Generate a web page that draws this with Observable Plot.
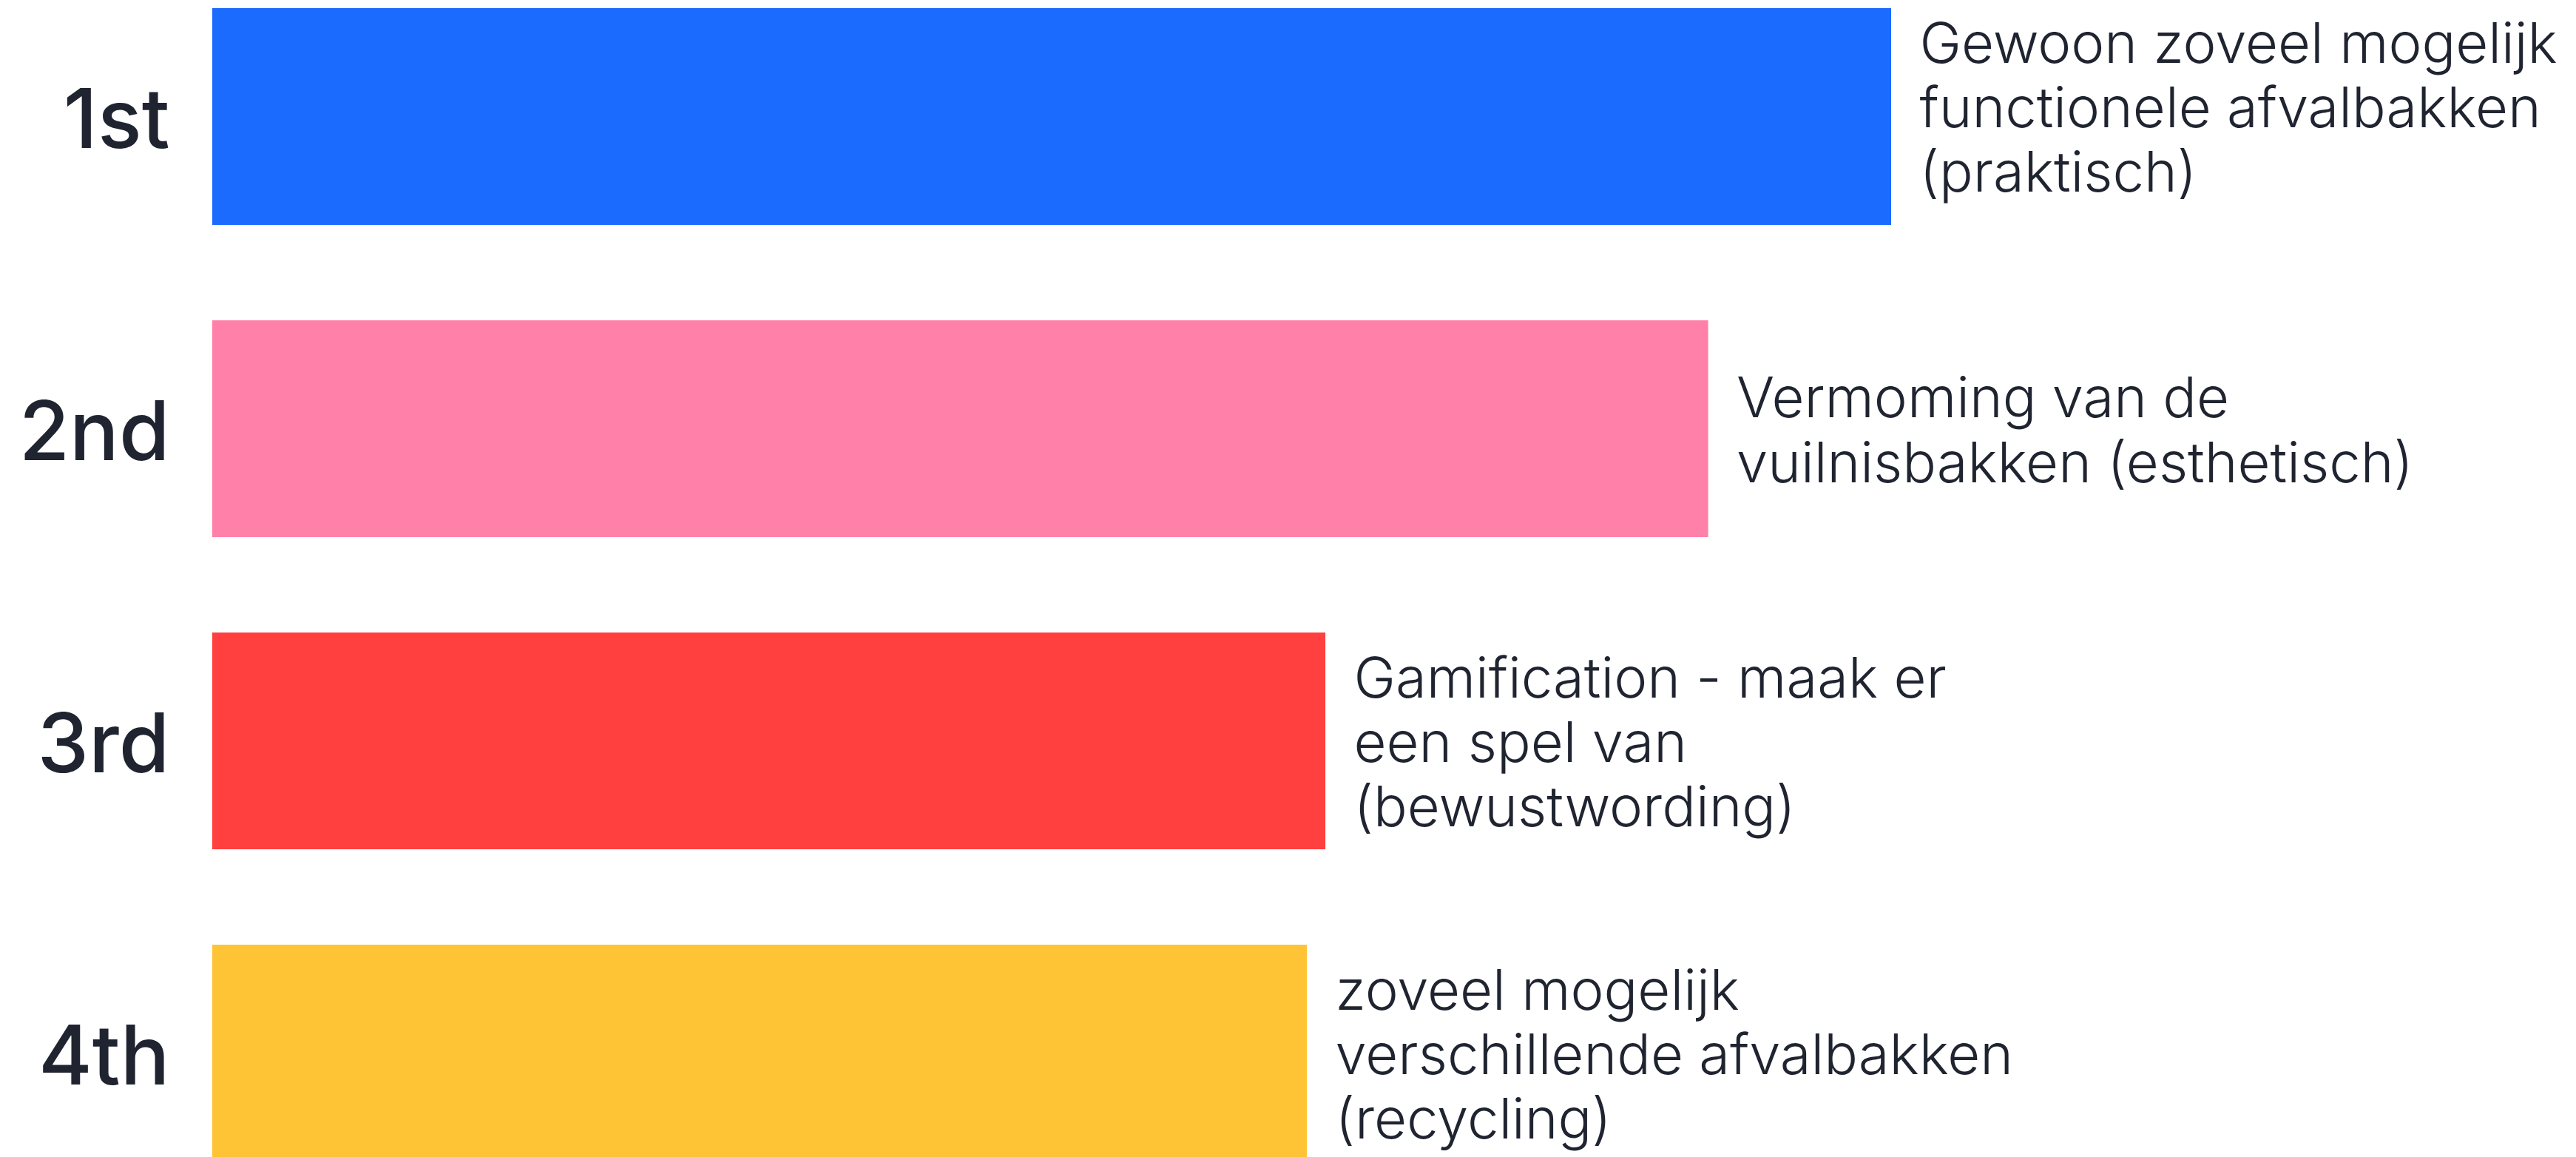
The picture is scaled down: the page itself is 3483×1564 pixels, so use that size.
<!DOCTYPE html>
<html>
<head>
<meta charset="utf-8">
<script src="https://cdn.jsdelivr.net/npm/d3@7"></script>
<script src="https://cdn.jsdelivr.net/npm/@observablehq/plot@0.6"></script>
<style>
  html, body { margin: 0; padding: 0; background: #ffffff; overflow: hidden; }
  #chart svg { display: block; }
</style>
</head>
<body>
<div id="chart"></div>
<script>
const ranks = ["1st", "2nd", "3rd", "4th"];
const scores = [100, 89.1, 66.3, 65.2];
const labels = [
  "Gewoon zoveel mogelijk\nfunctionele afvalbakken\n(praktisch)",
  "Vermoming van de\nvuilnisbakken (esthetisch)",
  "Gamification - maak er\neen spel van\n(bewustwording)",
  "zoveel mogelijk\nverschillende afvalbakken\n(recycling)"
];
const colors = ["#1b6bff", "#ff80a8", "#ff403f", "#ffc436"];

const data = ranks.map((r, i) => ({rank: r, score: scores[i], label: labels[i]}));

const textStyle = {
  x: "score", y: "rank", text: "label",
  textAnchor: "start", lineAnchor: "middle", dx: 38,
  fontSize: 76, lineHeight: 1.15, fontFamily: "Inter", fontWeight: 300,
  letterSpacing: -0.5,
  fill: "#1f2430"
};

const chart = Plot.plot({
  width: 3483,
  height: 1572,
  marginTop: 11,
  marginBottom: 0,
  marginLeft: 287,
  marginRight: 926,
  style: {background: "#ffffff"},
  x: {domain: [0, 100], axis: null},
  y: {domain: ranks, paddingInner: 0.305, paddingOuter: 0, align: 0, axis: null},
  color: {domain: ranks, range: colors},
  marks: [
    Plot.barX(data, {x: "score", y: "rank", fill: "rank"}),
    Plot.axisY({tickSize: 0, tickPadding: 58, dy: 6, label: null, fontSize: 111, fontWeight: 500, fontFamily: "Inter", fill: "#1f2430"}),
    Plot.text(data.slice(0, 1), {...textStyle, dy: -14}),
    Plot.text(data.slice(1), textStyle)
  ]
});
document.getElementById("chart").appendChild(chart);
</script>
</body>
</html>
